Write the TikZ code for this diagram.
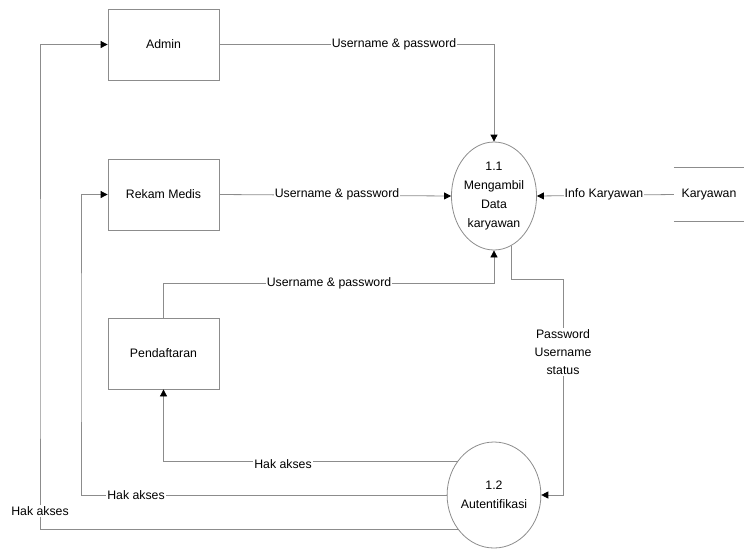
\documentclass[tikz,border=0pt]{standalone}
\usepackage{fontspec}
\setmainfont{Liberation Sans}
\usetikzlibrary{arrows.meta,shapes.geometric}
\definecolor{linegray}{rgb}{0.55,0.55,0.55}
\tikzset{
  entbox/.style={draw=linegray, line width=0.8pt, minimum width=111pt, minimum height=71pt, inner sep=0pt},
  procell/.style={draw=linegray, line width=0.8pt, ellipse, inner sep=0pt, align=center, font=\fontsize{12.3}{19}\selectfont},
  flow/.style={draw=linegray, line width=0.8pt, -{Triangle[length=7pt,width=7pt,color=black]}},
  lbl/.style={fill=white, inner sep=1pt, font=\fontsize{12.3}{18}\selectfont, align=center},
  txt/.style={font=\fontsize{12.3}{15}\selectfont}
}
\begin{document}
\begin{tikzpicture}[x=1pt,y=-1pt]
\useasboundingbox (0,0) rectangle (744,550);
% entities
\node[entbox, txt] (ad) at (163.5,44.5) {Admin};
\node[entbox, txt] (rm) at (163.5,194.5) {Rekam Medis};
\node[entbox, txt] (pd) at (163.5,353.5) {Pendaftaran};
% processes
\node[procell, minimum width=82pt, minimum height=108pt] (e1) at (494,196) {1.1\\Mengambil\\Data\\karyawan};
\node[procell, minimum width=82pt, minimum height=106pt] (e2) at (494,495) {1.2\\Autentifikasi};
% data store
\node[txt, minimum width=70pt, minimum height=53pt, inner sep=0pt] (ky) at (709,194.5) {Karyawan};
\draw[linegray, line width=0.8pt] (ky.north west) -- (ky.north east);
\draw[linegray, line width=0.8pt] (ky.south west) -- (ky.south east);
% corner coordinates
\coordinate (k3) at (494,283);
\coordinate (k4) at (563,279);
\coordinate (k2) at (81,350);
\coordinate (k1) at (40,350);
% flows
\draw[flow] (ad.east) -| (e1.north);
\node[lbl] at (394,44.5) {Username \& password};
\draw[flow] (rm.east) -- (e1.west);
\node[lbl] at (337,194.5) {Username \& password};
\draw[flow] (pd.north) |- (k3) -- (e1.south);
\node[lbl] at (329,283) {Username \& password};
\draw[flow] (ky.west) -- (e1.east);
\node[lbl] at (604,194.5) {Info Karyawan};
\draw[flow] (e1.289) |- (k4) |- (e2.east);
\node[lbl] at (563,352) {Password\\Username\\status};
\draw[flow] (e2.137) -| (pd.south);
\node[lbl] at (283,464) {Hak akses};
\draw[flow] (e2.west) -| (k2) |- (rm.west);
\node[lbl] at (136,495) {Hak akses};
\draw[flow] (e2.223) -| (k1) |- (ad.west);
\node[lbl] at (40,511) {Hak akses};
\end{tikzpicture}
\end{document}
